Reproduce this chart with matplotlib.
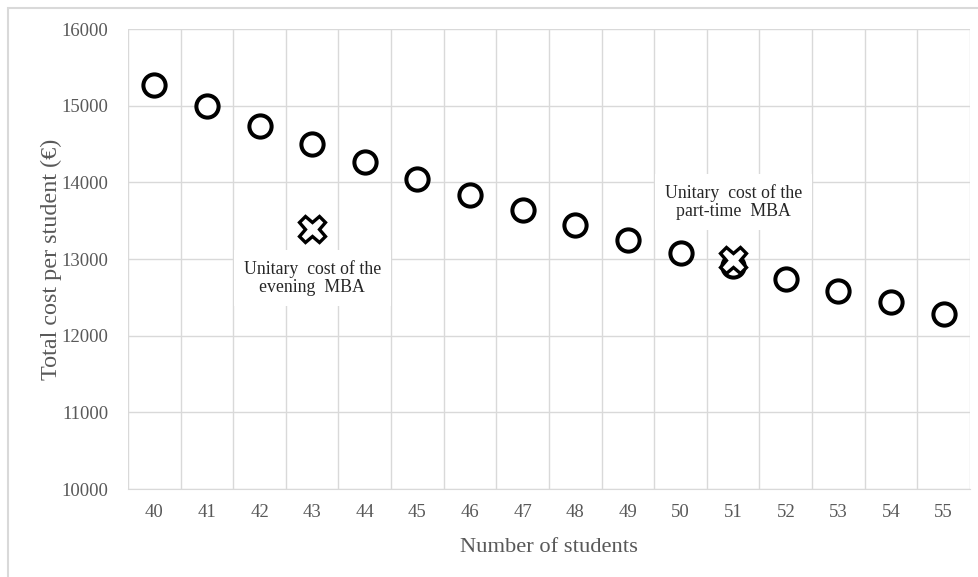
import matplotlib.pyplot as plt
from matplotlib.patches import Rectangle

students = [40, 41, 42, 43, 44, 45, 46, 47, 48, 49, 50, 51, 52, 53, 54, 55]
cost = [15270, 15000, 14740, 14500, 14270, 14050, 13840, 13640,
        13450, 13250, 13075, 12910, 12740, 12580, 12435, 12285]

evening_x, evening_cost = 43, 13390
parttime_x, parttime_cost = 51, 12985

plt.rcParams['font.family'] = ['Liberation Serif', 'DejaVu Serif']

fig = plt.figure(figsize=(9.79, 5.77), dpi=100)
ax = fig.add_axes([128 / 979, 1 - 489 / 577, (970 - 128) / 979, (489 - 29) / 577])

pos = list(range(len(students)))
ax.plot(pos, cost, 'o', ms=16, mfc='white', mec='black', mew=2.9, zorder=3)
ax.plot(students.index(evening_x), evening_cost, 'X', ms=19, mfc='white', mec='black', mew=2.4, zorder=4)
ax.plot(students.index(parttime_x), parttime_cost, 'X', ms=19, mfc='white', mec='black', mew=2.4, zorder=4)

ax.set_xlim(-0.5, len(students) - 0.5)
ax.set_ylim(10000, 16000)
ax.set_xticks(pos)
ax.set_xticklabels([str(s) for s in students])
ax.set_xticks([p - 0.5 for p in pos] + [len(students) - 0.5], minor=True)
ax.set_yticks(range(10000, 16001, 1000))
ax.grid(which='minor', axis='x', color='#d9d9d9', lw=1)
ax.grid(which='major', axis='y', color='#d9d9d9', lw=1)
ax.tick_params(which='both', length=0, labelsize=13.5, labelcolor='#595959')
ax.tick_params(axis='x', pad=11)
ax.tick_params(axis='y', pad=14)
for s in ['top', 'right', 'left']:
    ax.spines[s].set_visible(False)
ax.spines['bottom'].set_color('#d9d9d9')

ax.set_xlabel('Number of students', fontsize=16.2, color='#595959', labelpad=12)
ax.set_ylabel('Total cost per student (€)', fontsize=17.4, color='#595959', labelpad=0)

box = dict(facecolor='white', edgecolor='none', pad=7)
ax.text(students.index(evening_x), 12755, 'Unitary  cost of the\nevening  MBA', ha='center', va='center',
        fontsize=12.8, color='#262626', bbox=box, zorder=5, linespacing=1.1)
ax.text(students.index(parttime_x), 13741, 'Unitary  cost of the\npart-time  MBA', ha='center', va='center',
        fontsize=12.8, color='#262626', bbox=box, zorder=5, linespacing=1.1)

fig.patches.append(Rectangle((8 / 979, -0.1), 1, 1.1 - 8 / 577, transform=fig.transFigure,
                             fill=False, edgecolor='#d9d9d9', lw=1.5))

fig.savefig('out.png', dpi=100)
